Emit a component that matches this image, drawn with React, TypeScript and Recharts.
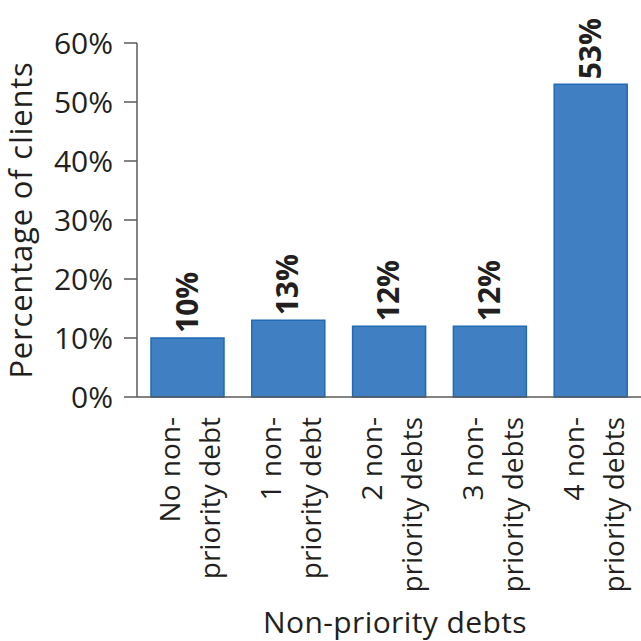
import React from "react";
import { BarChart, Bar, XAxis, YAxis, LabelList, Label } from "recharts";

const categories = [
  ["No non-", "priority debt"],
  ["1 non-", "priority debt"],
  ["2 non-", "priority debts"],
  ["3 non-", "priority debts"],
  ["4 non-", "priority debts"],
];
const shares = [10, 13, 12, 12, 53];
const yTicks = [0, 10, 20, 30, 40, 50, 60];
const edgeTicks = [0, 1, 2, 3, 4, 5];

const FONT = "'Open Sans', sans-serif";
const INK = "#231F20";
const AXIS = "#5a5a5a";

const data = categories.map((lines, i) => ({ name: lines.join(" "), lines, value: shares[i] }));

function CategoryTick(props: any) {
  const { x, y, payload, index } = props;
  const lines = categories[index] ?? [payload.value];
  return (
    <g transform={`translate(${x},${y}) rotate(-90)`}>
      <text x={-12} y={-7} textAnchor="end" fill={INK} fontSize={28} fontFamily={FONT}>
        {lines[0]}
      </text>
      <text x={-12} y={33} textAnchor="end" fill={INK} fontSize={28} fontFamily={FONT}>
        {lines[1]}
      </text>
    </g>
  );
}

function ValueLabel(props: any) {
  const { x, y, width, value } = props;
  const cx = x + width / 2 + 10;
  return (
    <text
      transform={`translate(${cx},${y - 5}) rotate(-90)`}
      textAnchor="start"
      fill={INK}
      fontSize={30}
      fontWeight="bold"
      fontFamily={FONT}
    >
      {`${value}%`}
    </text>
  );
}

export default function App() {
  return (
    <div style={{ position: "absolute", left: 0, top: 0, width: 641, height: 641, background: "#fff" }}>
      <BarChart width={641} height={641} data={data} margin={{ top: 43, right: 0, left: 0, bottom: 0 }}>
        <XAxis
          xAxisId="edges"
          type="number"
          domain={[0, 5]}
          ticks={edgeTicks}
          tick={false}
          axisLine={false}
          tickLine={{ stroke: AXIS, strokeWidth: 1.5 }}
          tickSize={8}
          height={0}
        />
        <XAxis
          xAxisId="cat"
          dataKey="name"
          type="category"
          interval={0}
          tickLine={false}
          axisLine={{ stroke: AXIS, strokeWidth: 1.5 }}
          tick={<CategoryTick />}
          height={244}
        >
          <Label
            content={({ viewBox }: any) => (
              <text
                x={viewBox.x + viewBox.width / 2 + 6}
                y={633}
                textAnchor="middle"
                fill={INK}
                fontSize={30}
                letterSpacing={0.4}
                fontFamily={FONT}
              >
                Non-priority debts
              </text>
            )}
          />
        </XAxis>
        <YAxis
          width={137}
          domain={[0, 60]}
          ticks={yTicks}
          tickFormatter={(v) => `${v}%`}
          tickSize={13}
          tickMargin={11}
          axisLine={{ stroke: AXIS, strokeWidth: 1.5 }}
          tickLine={{ stroke: AXIS, strokeWidth: 1.5 }}
          tick={{ fill: INK, fontSize: 30, fontFamily: FONT }}
        >
          <Label
            content={({ viewBox }: any) => (
              <text
                transform={`translate(32,${viewBox.y + viewBox.height / 2}) rotate(-90)`}
                textAnchor="middle"
                fill={INK}
                fontSize={31}
                letterSpacing={0.8}
                fontFamily={FONT}
              >
                Percentage of clients
              </text>
            )}
          />
        </YAxis>
        <Bar
          xAxisId="cat"
          dataKey="value"
          fill="#3F7FC2"
          stroke="#1F6CB4"
          strokeWidth={1.5}
          barSize={73}
          isAnimationActive={false}
        >
          <LabelList dataKey="value" content={<ValueLabel />} />
        </Bar>
      </BarChart>
    </div>
  );
}
